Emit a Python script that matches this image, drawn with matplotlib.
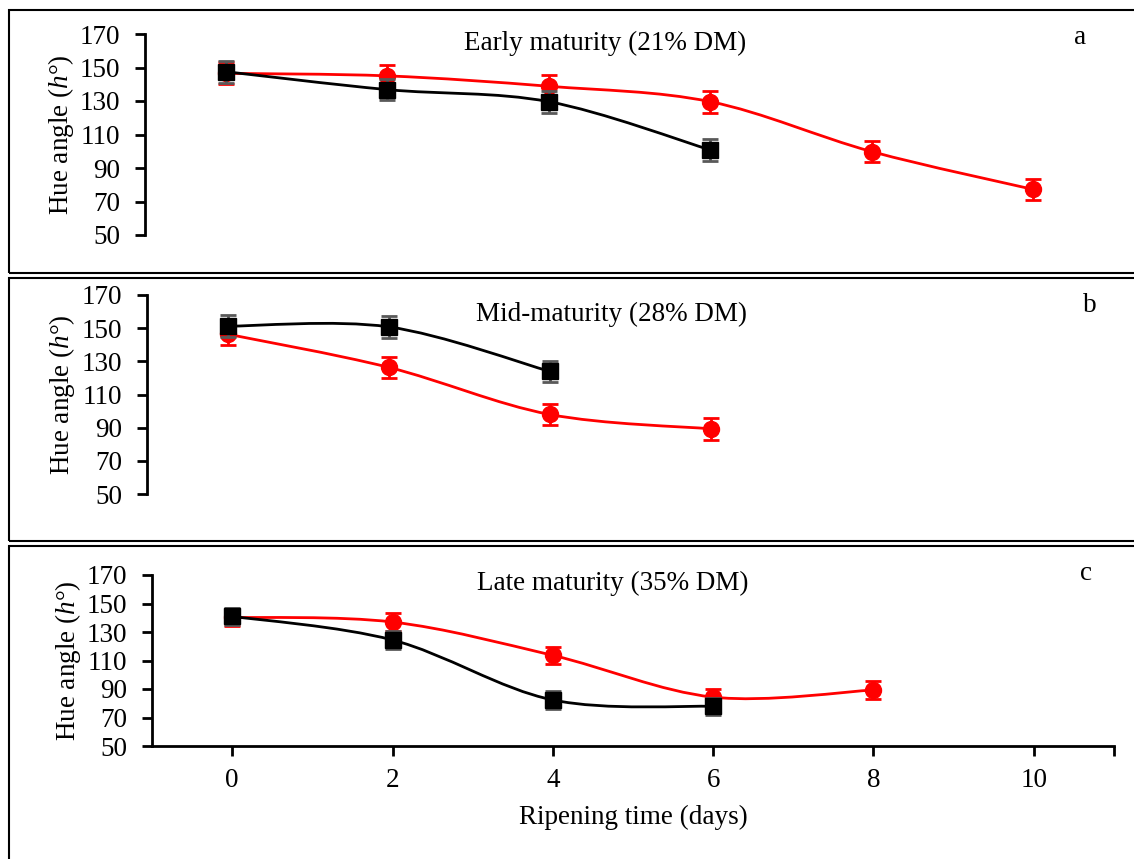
import numpy as np
import matplotlib
matplotlib.use("Agg")
import matplotlib.pyplot as plt
from matplotlib.path import Path
from matplotlib.patches import PathPatch, Rectangle

plt.rcParams['font.family'] = ['Liberation Serif', 'DejaVu Serif']
plt.rcParams['mathtext.fontset'] = 'custom'
plt.rcParams['mathtext.rm'] = 'Liberation Serif'
plt.rcParams['mathtext.it'] = 'Liberation Serif:italic'

# ---------------------------------------------------------------- data ---- #
titles = ["Early maturity (21% DM)", "Mid-maturity (28% DM)", "Late maturity (35% DM)"]
letters = ["a", "b", "c"]

days_black = [[0, 2, 4, 6], [0, 2, 4], [0, 2, 4, 6]]
hue_black = [[147.5, 136.8, 129.6, 100.8], [151.2, 150.8, 124.0], [141.0, 124.4, 82.3, 77.8]]
err_black = [[6.5, 6.5, 6.5, 6.5], [6.5, 6.5, 6.5], [6.0, 6.0, 6.0, 6.0]]

days_red = [[0, 2, 4, 6, 8, 10], [0, 2, 4, 6], [0, 2, 4, 6, 8]]
hue_red = [[146.5, 145.0, 138.8, 129.6, 99.8, 77.2], [146.4, 126.4, 98.0, 89.3], [140.3, 137.0, 113.6, 84.3, 89.3]]
err_red = [[6.5, 6.5, 6.5, 6.5, 6.5, 6.5], [6.5, 6.5, 6.5, 6.5], [6.0, 6.0, 6.0, 6.0, 6.0]]

y_ticks = [50, 70, 90, 110, 130, 150, 170]
x_ticks = [0, 2, 4, 6, 8, 10]

# ------------------------------------------------------------- layout ---- #
W, H = 1134, 859
FS = 19.5
# axes boxes in pixels: left, right, top(170), bottom(50)
boxes = [(145, 1114, 34, 235), (147, 1113, 295, 494), (152, 1114, 575, 746)]
frames = [(9, 10, 273), (9, 278, 541), (9, 546, 870)]
title_pos = [(605, 43), (612, 314), (613, 583)]
letter_pos = [(1080, 38), (1090, 305), (1086, 573)]
ylabel_pos = [(61, 135), (62, 395), (68, 661)]


def smooth_path(xs, ys):
    # excel-style smoothed line: bezier segments, control points from neighbours
    xs = list(xs)
    ys = list(ys)
    n = len(xs)
    verts = [(xs[0], ys[0])]
    codes = [Path.MOVETO]
    for i in range(n - 1):
        x0, y0 = (xs[i - 1], ys[i - 1]) if i > 0 else (xs[i], ys[i])
        x3, y3 = (xs[i + 2], ys[i + 2]) if i + 2 < n else (xs[i + 1], ys[i + 1])
        c1 = (xs[i] + (xs[i + 1] - x0) / 6, ys[i] + (ys[i + 1] - y0) / 6)
        c2 = (xs[i + 1] - (x3 - xs[i]) / 6, ys[i + 1] - (y3 - ys[i]) / 6)
        verts += [c1, c2, (xs[i + 1], ys[i + 1])]
        codes += [Path.CURVE4] * 3
    return Path(verts, codes)


fig = plt.figure(figsize=(W / 100, H / 100), dpi=100)

for k in range(3):
    fl, ft, fb = frames[k]
    fig.patches.append(Rectangle((fl / W, 1 - fb / H), (W + 20 - fl) / W, (fb - ft) / H,
                                 transform=fig.transFigure, fill=False,
                                 edgecolor='black', linewidth=1.5))

    l, r, t, b = boxes[k]
    ax = fig.add_axes([l / W, 1 - b / H, (r - l) / W, (b - t) / H])
    ax.set_xlim(-1, 11)
    ax.set_ylim(50, 170)
    ax.patch.set_alpha(0)

    for side in ['top', 'right']:
        ax.spines[side].set_visible(False)
    ax.spines['left'].set_linewidth(2)
    ax.set_yticks(y_ticks)
    ax.tick_params(axis='y', direction='out', length=7, width=2, labelsize=FS, pad=11)

    if k < 2:
        ax.spines['bottom'].set_visible(False)
        ax.set_xticks([])
    else:
        ax.spines['bottom'].set_linewidth(2)
        ax.set_xticks(x_ticks)
        ax.set_xticks([11], minor=True)
        ax.tick_params(axis='x', which='both', direction='out', length=7, width=2,
                       labelsize=FS, pad=9)
        fig.text(633 / W, 1 - 817 / H, "Ripening time (days)", ha='center', va='center',
                 fontsize=FS)

    yx, yy = ylabel_pos[k]
    fig.text(yx / W, 1 - yy / H, "Hue angle ($\\mathit{h}$°)", rotation=90,
             ha='center', va='center', fontsize=FS)

    # red series
    ax.add_patch(PathPatch(smooth_path(days_red[k], hue_red[k]), fill=False,
                           edgecolor='#ff0000', linewidth=2, zorder=2))
    ax.errorbar(days_red[k], hue_red[k], yerr=err_red[k], fmt='o', color='#ff0000',
                markersize=11.5, ecolor='#ff0000', elinewidth=2, capsize=5.5, capthick=2,
                zorder=3)

    # black series
    ax.add_patch(PathPatch(smooth_path(days_black[k], hue_black[k]), fill=False,
                           edgecolor='black', linewidth=2, zorder=4))
    ax.errorbar(days_black[k], hue_black[k], yerr=err_black[k], fmt='s', color='black',
                markersize=11.5, ecolor='#595959', elinewidth=2, capsize=5.5, capthick=2,
                zorder=5)

    tx, ty = title_pos[k]
    fig.text(tx / W, 1 - ty / H, titles[k], ha='center', va='center', fontsize=FS)
    lx, ly = letter_pos[k]
    fig.text(lx / W, 1 - ly / H, letters[k], ha='center', va='center', fontsize=FS)

fig.savefig("out.png", dpi=100)
